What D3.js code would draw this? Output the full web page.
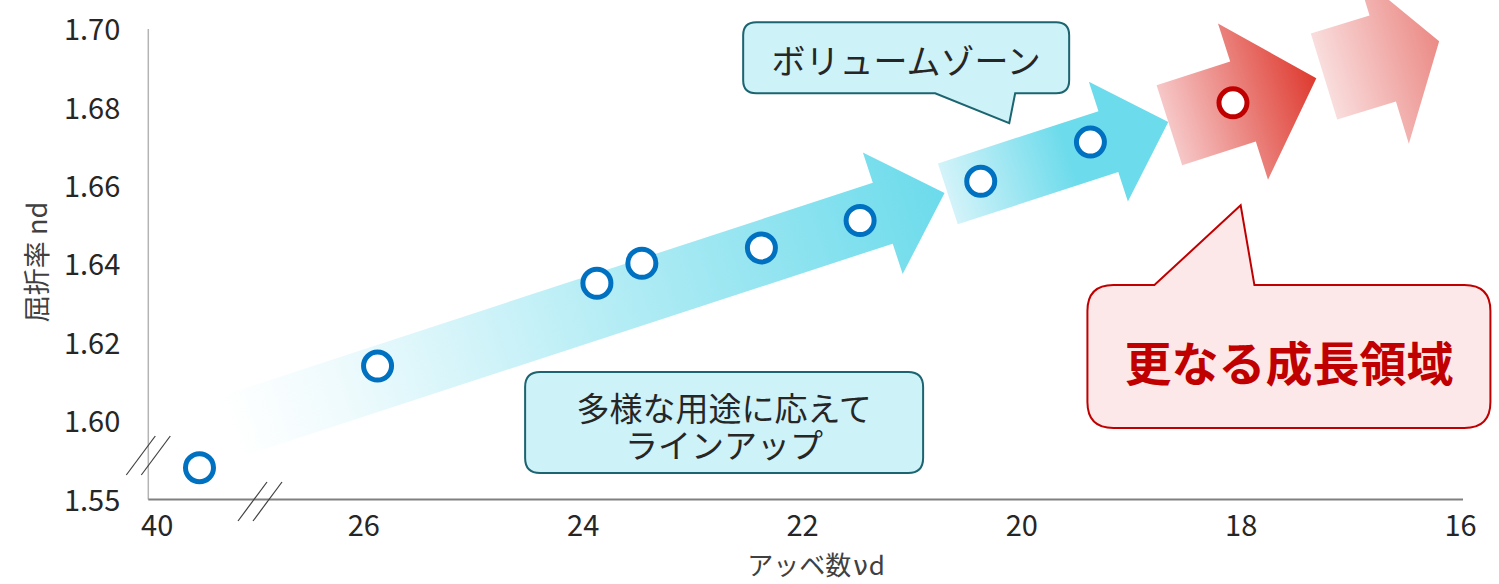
<!DOCTYPE html>
<html><head><meta charset="utf-8">
<script src="https://cdn.jsdelivr.net/npm/d3@7"></script>
<style>
html,body{margin:0;padding:0;background:#fff;}
svg{display:block;font-family:"Noto Sans CJK JP","Noto Sans",sans-serif;}
.note2{font-family:"Noto Sans CJK JP","Noto Sans",sans-serif;font-size:33px;line-height:37px;color:#262626;text-align:center;margin:0;padding:0;}
</style></head>
<body><svg id="chart" width="1499" height="584"></svg>
<script>
// ---- data ----
const xTicks = [40, 26, 24, 22, 20, 18, 16];
const yTicks = [1.55, 1.60, 1.62, 1.64, 1.66, 1.68, 1.70];
const yTickLabels = ["1.55", "1.60", "1.62", "1.64", "1.66", "1.68", "1.70"];
// product lineup (blue)
const lineupAbbe = [37.1, 25.87, 23.87, 23.46, 22.37, 21.47, 20.37, 19.37];
const lineupNd   = [1.5706, 1.6142, 1.6353, 1.6404, 1.6443, 1.6513, 1.6613, 1.6713];
// next growth (red)
const nextAbbe = [18.07];
const nextNd   = [1.6813];
// arrows: tail / tip in data coords
const arrowFrom = [[35.2, 1.5963], [20.67, 1.6581], [18.65, 1.6756], [17.24, 1.6880]];
const arrowTo   = [[20.70, 1.6583], [18.66, 1.6764], [17.31, 1.6876], [16.19, 1.6970]];
const xTitleParts = ["アッベ数", "ν", "d"];
const yTitle = "屈折率 nd";
const note1 = "ボリュームゾーン";
const note2 = ["多様な用途に応えて", "ラインアップ"];
const note3 = "更なる成長領域";

// ---- layout ----
const svg = d3.select("#chart");
const plot = {left: 148.3, right: 1463, top: 29, bottom: 499.5};
// broken axes: piecewise linear scales
const x = d3.scaleLinear().domain([40, 26, 16]).range([156.7, 363.3, 1460]);
const y = d3.scaleLinear().domain([1.55, 1.60, 1.70]).range([500, 421.7, 29.5]);

const arrowStyle = [
  {s: 32, h: 64, L: 65, stops: [[0, "#ffffff"], [0.15, "#f0fbfd"], [1, "#6cdbeb"]]},
  {s: 32, h: 63, L: 63, stops: [[0, "#d3f3f9"], [0.55, "#6cdbeb"], [1, "#6cdbeb"]]},
  {s: 42, h: 82, L: 77, stops: [[0, "#f6c7c7"], [1, "#de3a2f"]]},
  {s: 45, h: 89, L: 59, stops: [[0, "#f9dddd"], [1, "#eb8a85"]]}
];

const defs = svg.append("defs");
const gArrows = svg.append("g");
arrowFrom.forEach((f, i) => {
  const T = [x(f[0]), y(f[1])], P = [x(arrowTo[i][0]), y(arrowTo[i][1])];
  const st = arrowStyle[i];
  const len = Math.hypot(P[0] - T[0], P[1] - T[1]);
  const ux = (P[0] - T[0]) / len, uy = (P[1] - T[1]) / len;
  const nx = -uy, ny = ux;
  const B = [P[0] - ux * st.L, P[1] - uy * st.L];
  const pts = [
    [T[0] + nx * st.s, T[1] + ny * st.s],
    [B[0] + nx * st.s, B[1] + ny * st.s],
    [B[0] + nx * st.h, B[1] + ny * st.h],
    P,
    [B[0] - nx * st.h, B[1] - ny * st.h],
    [B[0] - nx * st.s, B[1] - ny * st.s],
    [T[0] - nx * st.s, T[1] - ny * st.s]
  ];
  const gid = "ag" + i;
  const lg = defs.append("linearGradient").attr("id", gid)
    .attr("gradientUnits", "userSpaceOnUse")
    .attr("x1", T[0]).attr("y1", T[1]).attr("x2", P[0]).attr("y2", P[1]);
  st.stops.forEach(s => lg.append("stop").attr("offset", s[0]).attr("stop-color", s[1]));
  gArrows.append("path").attr("d", d3.line()(pts) + "Z").attr("fill", `url(#${gid})`);
});

// ---- axes ----
const tickFont = "'Noto Sans CJK JP','Noto Sans',sans-serif";
const gx = svg.append("g").attr("transform", `translate(0,${plot.bottom})`)
  .call(d3.axisBottom(x).tickValues(xTicks).tickSize(0).tickPadding(16).tickFormat(d3.format("d")));
gx.select(".domain").remove();
gx.selectAll("text").attr("font-size", 29).attr("fill", "#262626").attr("font-family", tickFont);

const gy = svg.append("g").attr("transform", `translate(${plot.left},0)`)
  .call(d3.axisLeft(y).tickValues(yTicks).tickSize(0).tickPadding(28).tickFormat((d, i) => yTickLabels[i]));
gy.select(".domain").remove();
gy.selectAll("text").attr("font-size", 29).attr("fill", "#262626").attr("dy", "0.35em")
  .attr("font-family", tickFont);

svg.append("line").attr("x1", plot.left).attr("x2", plot.left).attr("y1", plot.top).attr("y2", plot.bottom)
  .attr("stroke", "#b4b4b4").attr("stroke-width", 1.5);
svg.append("line").attr("x1", plot.left).attr("x2", plot.right).attr("y1", plot.bottom).attr("y2", plot.bottom)
  .attr("stroke", "#808080").attr("stroke-width", 2);

// break marks
function breakMarks(cx, cy) {
  [-7.5, 7.5].forEach(o => {
    svg.append("line").attr("x1", cx + o - 14.5).attr("y1", cy + 19.5)
      .attr("x2", cx + o + 14.5).attr("y2", cy - 19.5)
      .attr("stroke", "#404040").attr("stroke-width", 1.2);
  });
}
breakMarks(plot.left, 455.5);
breakMarks(x(33), plot.bottom + 2);

// axis titles
{
  const t = svg.append("text").attr("x", 816).attr("y", 575).attr("text-anchor", "middle")
    .attr("font-size", 26).attr("fill", "#404040");
  t.append("tspan").text(xTitleParts[0]);
  t.append("tspan").attr("font-family", "'DejaVu Sans',sans-serif").attr("dx", 2).text(xTitleParts[1]);
  t.append("tspan").attr("dx", 1).text(xTitleParts[2]);
}
svg.append("text").attr("transform", "translate(47,262) rotate(-90)").attr("text-anchor", "middle")
  .attr("font-size", 27).attr("fill", "#404040").text(yTitle);

// ---- callouts ----
function roundedPathWithTail(x0, y0, w, h, r, tail) {
  const x1 = x0 + w, y1 = y0 + h;
  let p = `M${x0 + r},${y0}`;
  if (tail && tail.side === "top") p += `L${tail.a},${y0}L${tail.tx},${tail.ty}L${tail.b},${y0}`;
  p += `L${x1 - r},${y0}Q${x1},${y0} ${x1},${y0 + r}L${x1},${y1 - r}Q${x1},${y1} ${x1 - r},${y1}`;
  if (tail && tail.side === "bottom") p += `L${tail.b},${y1}L${tail.tx},${tail.ty}L${tail.a},${y1}`;
  p += `L${x0 + r},${y1}Q${x0},${y1} ${x0},${y1 - r}L${x0},${y0 + r}Q${x0},${y0} ${x0 + r},${y0}Z`;
  return p;
}

// callout 1: volume zone
{
  const cx = x(21.05), cy = y(1.6928), w = 326, h = 71;
  const tip = [x(20.11), y(1.6761)];
  svg.append("path").attr("d", roundedPathWithTail(cx - w / 2, cy - h / 2, w, h, 13,
      {side: "bottom", a: cx + 29, b: cx + 109, tx: tip[0], ty: tip[1]}))
    .attr("fill", "#cdf2f8").attr("stroke", "#1b6470").attr("stroke-width", 2);
  svg.append("text").attr("x", cx).attr("y", cy + 2).attr("text-anchor", "middle")
    .attr("dominant-baseline", "central").attr("font-size", 34).attr("fill", "#262626").text(note1);
}
// callout 2: lineup (two lines laid out with a fixed line height)
{
  const cx = x(22.71), cy = y(1.5995), w = 398, h = 101;
  svg.append("path").attr("d", roundedPathWithTail(cx - w / 2, cy - h / 2, w, h, 15, null))
    .attr("fill", "#cdf2f8").attr("stroke", "#1b6470").attr("stroke-width", 2);
  const fo = svg.append("foreignObject")
    .attr("x", cx - w / 2).attr("y", cy - 33).attr("width", w).attr("height", 74);
  const div = fo.append("xhtml:div").attr("class", "note2");
  note2.forEach(s => div.append("xhtml:div").text(s));
}
// callout 3: growth
{
  const cx = x(17.56), cy = y(1.6166), w = 403, h = 143;
  const tip = [x(18.00), y(1.6552)];
  svg.append("path").attr("d", roundedPathWithTail(cx - w / 2, cy - h / 2, w, h, 26,
      {side: "top", a: cx - 134.5, b: cx - 34.5, tx: tip[0], ty: tip[1]}))
    .attr("fill", "#fce8e9").attr("stroke", "#c00000").attr("stroke-width", 2);
  svg.append("text").attr("x", cx).attr("y", cy + 4).attr("text-anchor", "middle")
    .attr("dominant-baseline", "central").attr("font-size", 47).attr("font-weight", 700)
    .attr("fill", "#c00000").text(note3);
}

// ---- points ----
svg.append("g").selectAll("circle").data(lineupAbbe.map((a, i) => [a, lineupNd[i]])).join("circle")
  .attr("cx", d => x(d[0])).attr("cy", d => y(d[1])).attr("r", 14)
  .attr("fill", "#fff").attr("stroke", "#0070c0").attr("stroke-width", 5);
svg.append("g").selectAll("circle").data(nextAbbe.map((a, i) => [a, nextNd[i]])).join("circle")
  .attr("cx", d => x(d[0])).attr("cy", d => y(d[1])).attr("r", 14)
  .attr("fill", "#fff").attr("stroke", "#c00000").attr("stroke-width", 5);
</script></body></html>
